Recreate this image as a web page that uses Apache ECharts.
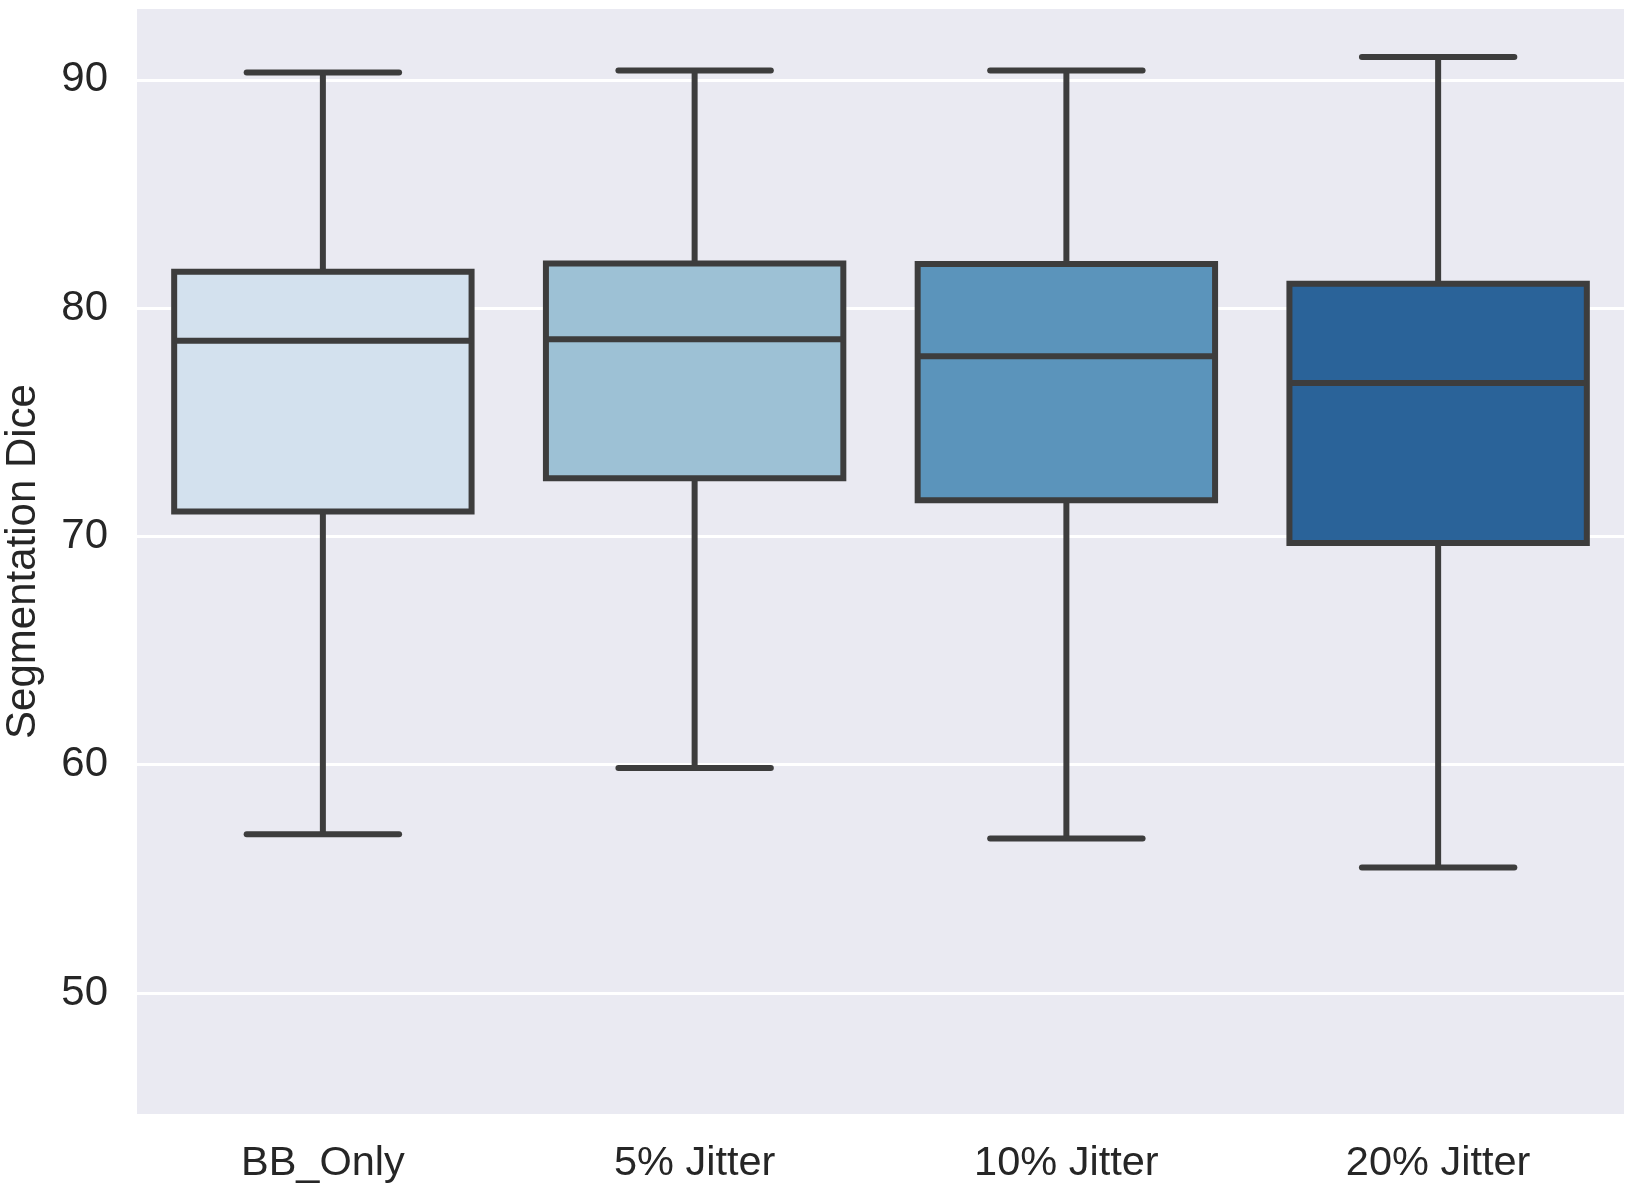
<!DOCTYPE html>
<html>
<head>
<meta charset="utf-8">
<script src="https://cdn.jsdelivr.net/npm/echarts@6/dist/echarts.min.js"></script>
<style>
html,body{margin:0;padding:0;background:#fff;}
#chart{width:1633px;height:1193px;}
</style>
</head>
<body>
<div id="chart"></div>
<script>
const categories = ['BB_Only', '5% Jitter', '10% Jitter', '20% Jitter'];
const whiskerLow = [56.95, 59.86, 56.77, 55.5];
const q1 = [71.09, 72.55, 71.58, 69.71];
const median = [78.57, 78.64, 77.89, 76.72];
const q3 = [81.59, 81.95, 81.93, 81.07];
const whiskerHigh = [90.32, 90.41, 90.41, 91.0];
const boxColors = ['#d3e1ee', '#9dc1d5', '#5b94bb', '#2a6399'];

const EDGE = '#3d3d3d';
const LW = 6;
const FONT = 'Liberation Sans, Arial, sans-serif';

const data = categories.map((c, i) => [i, whiskerLow[i], q1[i], median[i], q3[i], whiskerHigh[i]]);

function renderItem(params, api) {
  const i = api.value(0);
  const band = api.size([1, 0])[0];
  const boxW = band * 0.8;
  const capW = band * 0.41;
  const pLow = api.coord([i, api.value(1)]);
  const pQ1 = api.coord([i, api.value(2)]);
  const pMed = api.coord([i, api.value(3)]);
  const pQ3 = api.coord([i, api.value(4)]);
  const pHigh = api.coord([i, api.value(5)]);
  const cx = pMed[0];
  const lineStyle = {stroke: EDGE, lineWidth: LW, fill: null};
  return {
    type: 'group',
    children: [
      {type: 'line', shape: {x1: cx, y1: pQ3[1], x2: cx, y2: pHigh[1]}, style: lineStyle},
      {type: 'line', shape: {x1: cx, y1: pQ1[1], x2: cx, y2: pLow[1]}, style: lineStyle},
      {type: 'line', shape: {x1: cx - capW / 2, y1: pHigh[1], x2: cx + capW / 2, y2: pHigh[1]}, style: Object.assign({lineCap: 'round'}, lineStyle)},
      {type: 'line', shape: {x1: cx - capW / 2, y1: pLow[1], x2: cx + capW / 2, y2: pLow[1]}, style: Object.assign({lineCap: 'round'}, lineStyle)},
      {type: 'rect', shape: {x: cx - boxW / 2, y: pQ3[1], width: boxW, height: pQ1[1] - pQ3[1]},
        style: {fill: boxColors[i], stroke: EDGE, lineWidth: LW}},
      {type: 'line', shape: {x1: cx - boxW / 2, y1: pMed[1], x2: cx + boxW / 2, y2: pMed[1]}, style: lineStyle}
    ]
  };
}

const chart = echarts.init(document.getElementById('chart'), null, {renderer: 'canvas'});
chart.setOption({
  animation: false,
  backgroundColor: '#ffffff',
  grid: {left: 137, right: 9, top: 9, bottom: 79, show: true, backgroundColor: '#eaeaf2', borderWidth: 0,
    containLabel: false, outerBoundsMode: 'none'},
  xAxis: {
    type: 'category',
    data: categories,
    axisLine: {show: false},
    axisTick: {show: false},
    splitLine: {show: false},
    axisLabel: {fontSize: 41.5, color: '#262626', fontFamily: FONT, margin: 29}
  },
  yAxis: {
    type: 'value',
    min: 44.7,
    max: 93.1,
    splitNumber: 5,
    name: 'Segmentation Dice',
    nameLocation: 'middle',
    nameGap: 93,
    nameTextStyle: {fontSize: 42, color: '#262626', fontFamily: FONT},
    axisLine: {show: false},
    axisTick: {show: false},
    axisLabel: {fontSize: 42, color: '#262626', fontFamily: FONT, margin: 29, showMinLabel: false, showMaxLabel: false},
    splitLine: {show: true, showMinLine: false, showMaxLine: false, lineStyle: {color: '#ffffff', width: 3}}
  },
  series: [{
    type: 'custom',
    renderItem: renderItem,
    encode: {x: 0, y: [1, 2, 3, 4, 5]},
    data: data,
    clip: false
  }]
});
</script>
</body>
</html>
